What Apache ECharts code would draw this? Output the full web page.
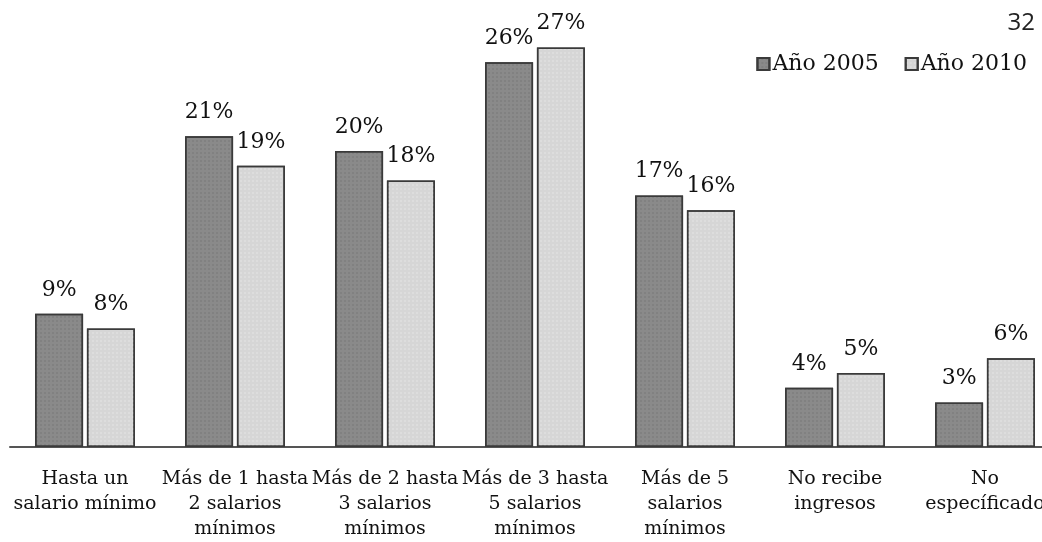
<!DOCTYPE html>
<html>
<head>
<meta charset="utf-8">
<script src="https://cdn.jsdelivr.net/npm/echarts@6/dist/echarts.min.js"></script>
<style>
  html, body { margin: 0; padding: 0; background: #fff; }
  #chart { width: 1042px; height: 542px; }
</style>
</head>
<body>
<div id="chart"></div>
<script>
var categories = [
  'Hasta un\nsalario mínimo',
  'Más de 1 hasta\n2 salarios\nmínimos',
  'Más de 2 hasta\n3 salarios\nmínimos',
  'Más de 3 hasta\n5 salarios\nmínimos',
  'Más de 5\nsalarios\nmínimos',
  'No recibe\ningresos',
  'No\nespecíficado'
];
var seriesNames = ['Año 2005', 'Año 2010'];
var values2005 = [9, 21, 20, 26, 17, 4, 3];
var values2010 = [8, 19, 18, 27, 16, 5, 6];

var serif = 'DejaVu Serif';

function barSeries(name, data, color, decalColor) {
  return {
    name: name,
    type: 'bar',
    data: data,
    barWidth: 48,
    barGap: '8%',
    itemStyle: {
      color: color,
      borderColor: '#3a3a3a',
      borderWidth: 1.5,
      decal: {
        symbol: 'rect',
        symbolSize: 0.6,
        color: decalColor,
        dashArrayX: [2, 2],
        dashArrayY: [2, 2]
      }
    },
    label: {
      show: true,
      position: 'top',
      distance: 13,
      formatter: '{c}%',
      fontFamily: serif,
      fontSize: 22,
      color: '#111'
    }
  };
}

var chart = echarts.init(document.getElementById('chart'));
chart.setOption({
  animation: false,
  backgroundColor: '#fff',
  title: {
    text: '32',
    right: 2,
    top: 6,
    textStyle: { fontFamily: 'Open Sans', fontSize: 24, fontWeight: 'normal', color: '#222' }
  },
  legend: {
    data: seriesNames,
    right: 10,
    top: 48,
    icon: 'rect',
    itemWidth: 12,
    itemHeight: 12,
    itemGap: 26,
    textStyle: { fontFamily: serif, fontSize: 22, color: '#111', padding: [0, 0, 0, -2] }
  },
  grid: { left: 10, width: 1050, top: 3, bottom: 95, outerBoundsMode: 'none', containLabel: false },
  xAxis: {
    type: 'category',
    data: categories,
    axisLine: { lineStyle: { color: '#555', width: 2 } },
    axisTick: { show: false },
    axisLabel: {
      interval: 0,
      margin: 20,
      fontFamily: serif,
      fontSize: 19,
      lineHeight: 25,
      color: '#111'
    }
  },
  yAxis: {
    type: 'value',
    min: 0,
    max: 30,
    show: false,
    splitLine: { show: false }
  },
  series: [
    barSeries(seriesNames[0], values2005, '#8a8a8a', 'rgba(60,60,60,0.35)'),
    barSeries(seriesNames[1], values2010, '#d6d6d6', 'rgba(255,255,255,0.6)')
  ]
});
</script>
</body>
</html>
